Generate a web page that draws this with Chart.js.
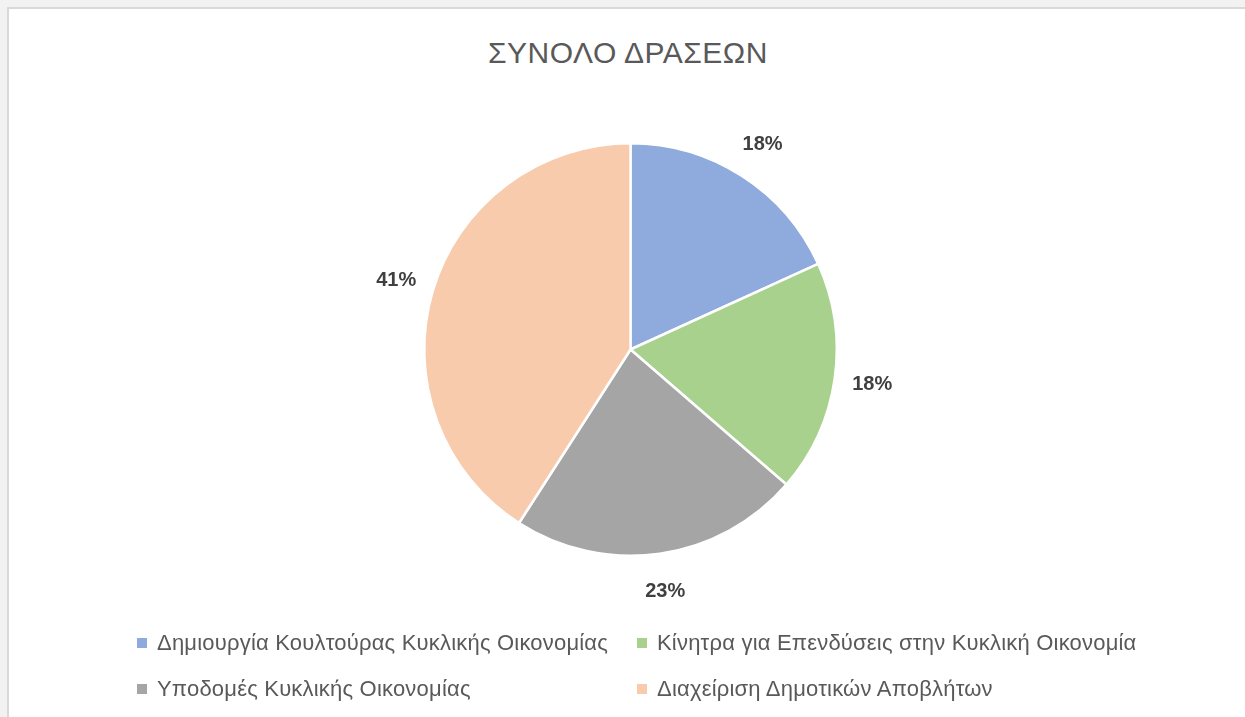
<!DOCTYPE html>
<html>
<head>
<meta charset="utf-8">
<script src="https://cdn.jsdelivr.net/npm/chart.js@4.4.1/dist/chart.umd.min.js"></script>
<style>
  html, body { margin:0; padding:0; width:1245px; height:717px; overflow:hidden; background:#f2f2f2; }
  #frame { position:absolute; left:7px; top:7px; width:1240px; height:712px; background:#fff;
           border-top:2px solid #d9d9d9; border-left:2px solid #d9d9d9; }
  #title { position:absolute; left:0; width:1240px; top:27px; text-align:center; letter-spacing:0.5px;
           font-family:"Liberation Sans", Arial, sans-serif; font-size:30px; color:#595959; margin-left:-1px; }
  #chart { position:absolute; left:0; top:0; }
  .lg { position:absolute; font-family:"Liberation Sans", Arial, sans-serif; font-size:22px; color:#595959; white-space:nowrap; letter-spacing:0.2px; }
  .lg span.box { position:absolute; left:0; top:8px; width:10px; height:10px; }
  .lg span.txt { position:absolute; left:20px; top:0; line-height:26px; }
</style>
</head>
<body>
<div id="frame">
  <div id="title">ΣΥΝΟΛΟ ΔΡΑΣΕΩΝ</div>
  <canvas id="chart" width="1238" height="710"></canvas>
  <div id="legend"></div>
</div>
<script>
const categories = [
  "Δημιουργία Κουλτούρας Κυκλικής Οικονομίας",
  "Κίνητρα για Επενδύσεις στην Κυκλική Οικονομία",
  "Υποδομές Κυκλικής Οικονομίας",
  "Διαχείριση Δημοτικών Αποβλήτων"
];
const values = [8, 8, 10, 18];
const colors = ["#8FAADC", "#A9D18E", "#A5A5A5", "#F8CBAD"];

const labelPlugin = {
  id: 'pctLabels',
  afterDatasetsDraw(chart) {
    const ctx = chart.ctx;
    const meta = chart.getDatasetMeta(0);
    const data = chart.data.datasets[0].data;
    const total = data.reduce((a, b) => a + b, 0);
    ctx.save();
    ctx.font = 'bold 20px "Liberation Sans", Arial, sans-serif';
    ctx.fillStyle = '#404040';
    ctx.textAlign = 'center';
    ctx.textBaseline = 'middle';
    meta.data.forEach((arc, i) => {
      const p = arc.getProps(['x','y','startAngle','endAngle','outerRadius'], true);
      const mid = (p.startAngle + p.endAngle) / 2;
      const r = p.outerRadius + 38;
      ctx.fillText(Math.round(data[i] / total * 100) + '%', p.x + Math.cos(mid) * r, p.y + Math.sin(mid) * r);
    });
    ctx.restore();
  }
};

new Chart(document.getElementById('chart'), {
  type: 'pie',
  data: {
    labels: categories,
    datasets: [{ data: values, backgroundColor: colors, borderColor: '#ffffff', borderWidth: 2.5 }]
  },
  options: {
    responsive: false,
    animation: false,
    layout: { padding: { left: 414, right: 409, top: 133, bottom: 162 } },
    plugins: { legend: { display: false }, tooltip: { enabled: false }, title: { display: false } }
  },
  plugins: [labelPlugin]
});

// HTML legend built from the data arrays
const legendPos = [[128, 621], [628, 621], [128, 667], [628, 667]];
const lg = document.getElementById('legend');
categories.forEach((c, i) => {
  const d = document.createElement('div');
  d.className = 'lg';
  d.style.left = legendPos[i][0] + 'px';
  d.style.top = legendPos[i][1] + 'px';
  d.innerHTML = '<span class="box" style="background:' + colors[i] + '"></span><span class="txt">' + c + '</span>';
  lg.appendChild(d);
});
</script>
</body>
</html>
